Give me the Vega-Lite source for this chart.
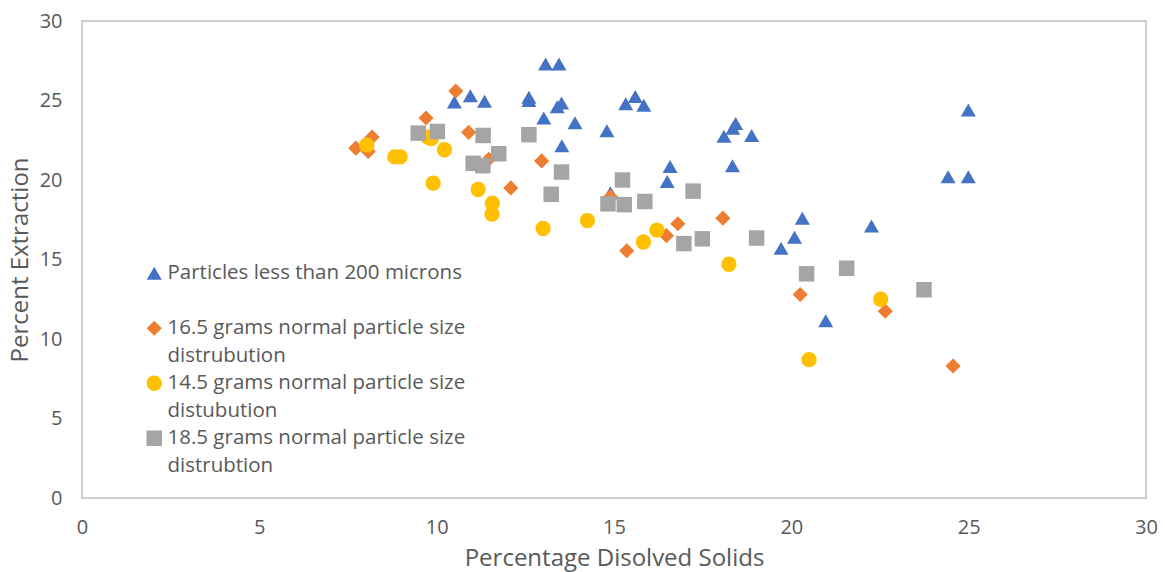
{
  "$schema": "https://vega.github.io/schema/vega-lite/v6.json",
  "width": 1064,
  "height": 477,
  "autosize": {"type": "none"},
  "padding": {"left": 82, "top": 21, "right": 19, "bottom": 74},
  "background": "white",
  "config": {
    "font": "Open Sans",
    "view": {"stroke": "#bfbfbf", "strokeWidth": 1.5},
    "style": {"guide-label": {"lineHeight": 27.5, "dy": 6}},
    "axis": {
      "domain": false, "ticks": false, "grid": false, "labelFlush": false,
      "labelFont": "Open Sans", "labelFontSize": 20, "labelColor": "#595959",
      "titleFont": "Open Sans", "titleFontSize": 24, "titleColor": "#595959", "titleFontWeight": "normal"
    }
  },
  "data": {"values": [
    {"series": "Particles less than 200 microns", "x": 10.5, "y": 24.9},
    {"series": "Particles less than 200 microns", "x": 10.95, "y": 25.3},
    {"series": "Particles less than 200 microns", "x": 11.35, "y": 24.95},
    {"series": "Particles less than 200 microns", "x": 12.6, "y": 25.2},
    {"series": "Particles less than 200 microns", "x": 12.6, "y": 25.0},
    {"series": "Particles less than 200 microns", "x": 13.07, "y": 27.3},
    {"series": "Particles less than 200 microns", "x": 13.45, "y": 27.3},
    {"series": "Particles less than 200 microns", "x": 13.02, "y": 23.9},
    {"series": "Particles less than 200 microns", "x": 13.4, "y": 24.6},
    {"series": "Particles less than 200 microns", "x": 13.52, "y": 24.85},
    {"series": "Particles less than 200 microns", "x": 13.53, "y": 22.15},
    {"series": "Particles less than 200 microns", "x": 13.9, "y": 23.6},
    {"series": "Particles less than 200 microns", "x": 14.8, "y": 23.1},
    {"series": "Particles less than 200 microns", "x": 14.9, "y": 19.2},
    {"series": "Particles less than 200 microns", "x": 15.33, "y": 24.8},
    {"series": "Particles less than 200 microns", "x": 15.6, "y": 25.25},
    {"series": "Particles less than 200 microns", "x": 15.84, "y": 24.7},
    {"series": "Particles less than 200 microns", "x": 16.5, "y": 19.9},
    {"series": "Particles less than 200 microns", "x": 16.58, "y": 20.85},
    {"series": "Particles less than 200 microns", "x": 18.1, "y": 22.75},
    {"series": "Particles less than 200 microns", "x": 18.35, "y": 23.25},
    {"series": "Particles less than 200 microns", "x": 18.43, "y": 23.55},
    {"series": "Particles less than 200 microns", "x": 18.88, "y": 22.8},
    {"series": "Particles less than 200 microns", "x": 18.34, "y": 20.9},
    {"series": "Particles less than 200 microns", "x": 19.71, "y": 15.7},
    {"series": "Particles less than 200 microns", "x": 20.09, "y": 16.4},
    {"series": "Particles less than 200 microns", "x": 20.31, "y": 17.6},
    {"series": "Particles less than 200 microns", "x": 20.97, "y": 11.15},
    {"series": "Particles less than 200 microns", "x": 22.26, "y": 17.1},
    {"series": "Particles less than 200 microns", "x": 24.42, "y": 20.2},
    {"series": "Particles less than 200 microns", "x": 24.99, "y": 20.2},
    {"series": "Particles less than 200 microns", "x": 24.99, "y": 24.4},
    {"series": "16.5 grams normal particle size distrubution", "x": 7.72, "y": 22.0},
    {"series": "16.5 grams normal particle size distrubution", "x": 8.07, "y": 21.8},
    {"series": "16.5 grams normal particle size distrubution", "x": 8.18, "y": 22.7},
    {"series": "16.5 grams normal particle size distrubution", "x": 9.7, "y": 23.9},
    {"series": "16.5 grams normal particle size distrubution", "x": 10.54, "y": 25.6},
    {"series": "16.5 grams normal particle size distrubution", "x": 10.9, "y": 23.0},
    {"series": "16.5 grams normal particle size distrubution", "x": 11.47, "y": 21.3},
    {"series": "16.5 grams normal particle size distrubution", "x": 12.96, "y": 21.2},
    {"series": "16.5 grams normal particle size distrubution", "x": 12.09, "y": 19.5},
    {"series": "16.5 grams normal particle size distrubution", "x": 14.9, "y": 18.95},
    {"series": "16.5 grams normal particle size distrubution", "x": 15.36, "y": 15.55},
    {"series": "16.5 grams normal particle size distrubution", "x": 16.48, "y": 16.5},
    {"series": "16.5 grams normal particle size distrubution", "x": 16.8, "y": 17.25},
    {"series": "16.5 grams normal particle size distrubution", "x": 18.07, "y": 17.6},
    {"series": "16.5 grams normal particle size distrubution", "x": 20.25, "y": 12.8},
    {"series": "16.5 grams normal particle size distrubution", "x": 22.65, "y": 11.75},
    {"series": "16.5 grams normal particle size distrubution", "x": 24.56, "y": 8.3},
    {"series": "14.5 grams normal particle size distubution", "x": 8.03, "y": 22.2},
    {"series": "14.5 grams normal particle size distubution", "x": 8.82, "y": 21.45},
    {"series": "14.5 grams normal particle size distubution", "x": 8.97, "y": 21.45},
    {"series": "14.5 grams normal particle size distubution", "x": 9.75, "y": 22.7},
    {"series": "14.5 grams normal particle size distubution", "x": 9.85, "y": 22.6},
    {"series": "14.5 grams normal particle size distubution", "x": 10.22, "y": 21.9},
    {"series": "14.5 grams normal particle size distubution", "x": 9.9, "y": 19.8},
    {"series": "14.5 grams normal particle size distubution", "x": 11.17, "y": 19.4},
    {"series": "14.5 grams normal particle size distubution", "x": 11.57, "y": 18.55},
    {"series": "14.5 grams normal particle size distubution", "x": 11.56, "y": 17.85},
    {"series": "14.5 grams normal particle size distubution", "x": 13.0, "y": 16.95},
    {"series": "14.5 grams normal particle size distubution", "x": 14.25, "y": 17.45},
    {"series": "14.5 grams normal particle size distubution", "x": 15.83, "y": 16.1},
    {"series": "14.5 grams normal particle size distubution", "x": 16.21, "y": 16.85},
    {"series": "14.5 grams normal particle size distubution", "x": 18.24, "y": 14.7},
    {"series": "14.5 grams normal particle size distubution", "x": 20.5, "y": 8.7},
    {"series": "14.5 grams normal particle size distubution", "x": 22.52, "y": 12.5},
    {"series": "18.5 grams normal particle size distrubtion", "x": 9.48, "y": 22.95},
    {"series": "18.5 grams normal particle size distrubtion", "x": 10.02, "y": 23.05},
    {"series": "18.5 grams normal particle size distrubtion", "x": 11.31, "y": 22.8},
    {"series": "18.5 grams normal particle size distrubtion", "x": 12.6, "y": 22.85},
    {"series": "18.5 grams normal particle size distrubtion", "x": 11.03, "y": 21.05},
    {"series": "18.5 grams normal particle size distrubtion", "x": 11.3, "y": 20.9},
    {"series": "18.5 grams normal particle size distrubtion", "x": 11.75, "y": 21.65},
    {"series": "18.5 grams normal particle size distrubtion", "x": 13.52, "y": 20.5},
    {"series": "18.5 grams normal particle size distrubtion", "x": 13.23, "y": 19.1},
    {"series": "18.5 grams normal particle size distrubtion", "x": 15.24, "y": 20.0},
    {"series": "18.5 grams normal particle size distrubtion", "x": 14.83, "y": 18.5},
    {"series": "18.5 grams normal particle size distrubtion", "x": 15.29, "y": 18.45},
    {"series": "18.5 grams normal particle size distrubtion", "x": 15.87, "y": 18.65},
    {"series": "18.5 grams normal particle size distrubtion", "x": 17.23, "y": 19.3},
    {"series": "18.5 grams normal particle size distrubtion", "x": 16.97, "y": 16.0},
    {"series": "18.5 grams normal particle size distrubtion", "x": 17.49, "y": 16.3},
    {"series": "18.5 grams normal particle size distrubtion", "x": 19.02, "y": 16.35},
    {"series": "18.5 grams normal particle size distrubtion", "x": 20.43, "y": 14.1},
    {"series": "18.5 grams normal particle size distrubtion", "x": 21.56, "y": 14.45},
    {"series": "18.5 grams normal particle size distrubtion", "x": 23.74, "y": 13.1}
  ]},
  "mark": {"type": "point", "filled": true, "opacity": 1},
  "encoding": {
    "x": {
      "field": "x", "type": "quantitative",
      "scale": {"domain": [0, 30], "nice": false},
      "axis": {"values": [0, 5, 10, 15, 20, 25, 30], "labelPadding": 13, "title": "Percentage Disolved Solids", "titlePadding": 9}
    },
    "y": {
      "field": "y", "type": "quantitative",
      "scale": {"domain": [0, 30], "nice": false},
      "axis": {"values": [0, 5, 10, 15, 20, 25, 30], "labelPadding": 20, "labelOffset": -6, "title": "Percent Extraction", "titlePadding": 7}
    },
    "color": {
      "field": "series", "type": "nominal",
      "scale": {
        "domain": ["Particles less than 200 microns", "16.5 grams normal particle size distrubution", "14.5 grams normal particle size distubution", "18.5 grams normal particle size distrubtion"],
        "range": ["#4472C4", "#ED7D31", "#FFC000", "#A5A5A5"]
      },
      "legend": {
        "title": null,
        "orient": "none",
        "legendX": 62,
        "legendY": 242,
        "labelFont": "Open Sans",
        "labelFontSize": 20.5,
        "labelColor": "#595959",
        "labelLimit": 500,
        "labelBaseline": "alphabetic",
        "labelOffset": 3,
        "rowPadding": 6,
        "labelExpr": "datum.label == 'Particles less than 200 microns' ? ['Particles less than 200 microns', ''] : datum.label == '16.5 grams normal particle size distrubution' ? ['16.5 grams normal particle size', 'distrubution'] : datum.label == '14.5 grams normal particle size distubution' ? ['14.5 grams normal particle size', 'distubution'] : ['18.5 grams normal particle size', 'distrubtion']"
      }
    },
    "shape": {
      "field": "series", "type": "nominal",
      "scale": {
        "domain": ["Particles less than 200 microns", "16.5 grams normal particle size distrubution", "14.5 grams normal particle size distubution", "18.5 grams normal particle size distrubtion"],
        "range": ["triangle-up", "diamond", "circle", "square"]
      }
    },
    "size": {
      "field": "series", "type": "nominal",
      "scale": {
        "domain": ["Particles less than 200 microns", "16.5 grams normal particle size distrubution", "14.5 grams normal particle size distubution", "18.5 grams normal particle size distrubtion"],
        "range": [225, 240, 180, 205]
      }
    }
  }
}
